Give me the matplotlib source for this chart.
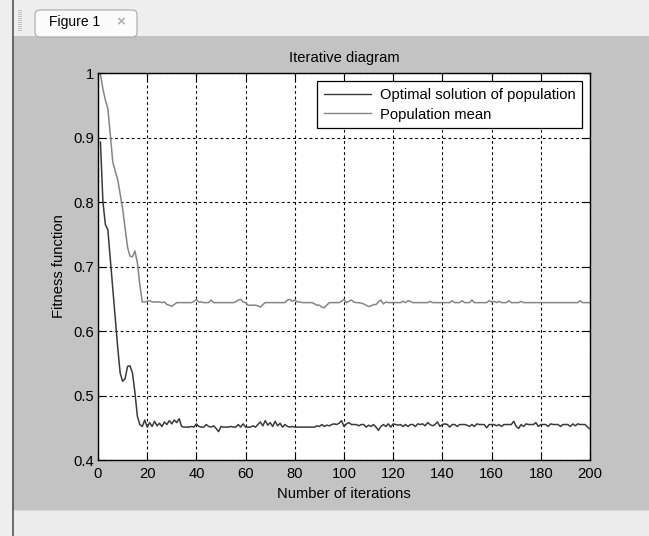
import matplotlib
matplotlib.use("Agg")
from matplotlib import pyplot as plt
from matplotlib.patches import Rectangle, FancyBboxPatch
from matplotlib.lines import Line2D
import numpy as np

plt.rcParams['font.family'] = ['Liberation Sans', 'DejaVu Sans']

# fitness of the best individual per iteration
best = [0.893, 0.800, 0.765, 0.757, 0.712, 0.668, 0.622, 0.575, 0.535, 0.522,
        0.526, 0.545, 0.546, 0.535, 0.505, 0.468, 0.455, 0.452, 0.462, 0.451,
        0.458, 0.452, 0.460, 0.453, 0.457, 0.452, 0.459, 0.455, 0.461, 0.456,
        0.462, 0.458, 0.464, 0.452, 0.451, 0.451, 0.451, 0.452, 0.451, 0.456,
        0.452, 0.451, 0.451, 0.455, 0.452, 0.451, 0.453, 0.449, 0.444, 0.452,
        0.451, 0.451, 0.451, 0.452, 0.451, 0.451, 0.455, 0.451, 0.456, 0.451,
        0.451, 0.451, 0.453, 0.451, 0.455, 0.459, 0.453, 0.461, 0.454, 0.458,
        0.452, 0.460, 0.453, 0.457, 0.451, 0.455, 0.452, 0.451, 0.452, 0.451,
        0.451, 0.451, 0.451, 0.451, 0.451, 0.451, 0.451, 0.451, 0.453, 0.452,
        0.455, 0.452, 0.454, 0.453, 0.455, 0.456, 0.455, 0.457, 0.461, 0.452,
        0.456, 0.458, 0.455, 0.455, 0.455, 0.453, 0.455, 0.455, 0.451, 0.454,
        0.452, 0.455, 0.451, 0.446, 0.452, 0.455, 0.452, 0.456, 0.451, 0.456,
        0.455, 0.454, 0.455, 0.452, 0.455, 0.452, 0.455, 0.455, 0.452, 0.456,
        0.455, 0.456, 0.453, 0.458, 0.455, 0.453, 0.455, 0.459, 0.452, 0.455,
        0.456, 0.455, 0.451, 0.455, 0.455, 0.452, 0.455, 0.455, 0.455, 0.454,
        0.452, 0.455, 0.452, 0.456, 0.455, 0.455, 0.455, 0.450, 0.455, 0.455,
        0.455, 0.453, 0.455, 0.452, 0.455, 0.455, 0.455, 0.455, 0.460, 0.452,
        0.449, 0.455, 0.452, 0.456, 0.455, 0.455, 0.455, 0.458, 0.452, 0.455,
        0.455, 0.455, 0.452, 0.456, 0.455, 0.455, 0.455, 0.452, 0.455, 0.455,
        0.455, 0.452, 0.456, 0.453, 0.456, 0.455, 0.455, 0.455, 0.451, 0.448]

# mean fitness of the population per iteration
mean = [0.998, 0.975, 0.958, 0.945, 0.905, 0.862, 0.848, 0.835, 0.812, 0.790,
        0.760, 0.730, 0.716, 0.715, 0.724, 0.706, 0.672, 0.645, 0.645, 0.646,
        0.647, 0.645, 0.645, 0.645, 0.645, 0.644, 0.645, 0.641, 0.640, 0.638,
        0.641, 0.644, 0.644, 0.644, 0.644, 0.644, 0.644, 0.644, 0.646, 0.649,
        0.645, 0.645, 0.644, 0.644, 0.644, 0.648, 0.644, 0.644, 0.644, 0.644,
        0.644, 0.644, 0.644, 0.644, 0.644, 0.645, 0.648, 0.649, 0.645, 0.644,
        0.640, 0.640, 0.640, 0.640, 0.639, 0.637, 0.641, 0.644, 0.644, 0.644,
        0.644, 0.644, 0.644, 0.644, 0.644, 0.644, 0.648, 0.649, 0.646, 0.648,
        0.645, 0.645, 0.644, 0.644, 0.644, 0.644, 0.644, 0.642, 0.640, 0.640,
        0.637, 0.636, 0.640, 0.644, 0.644, 0.644, 0.644, 0.644, 0.646, 0.649,
        0.644, 0.646, 0.648, 0.645, 0.644, 0.644, 0.643, 0.642, 0.640, 0.638,
        0.639, 0.641, 0.641, 0.645, 0.648, 0.642, 0.645, 0.644, 0.644, 0.644,
        0.644, 0.644, 0.644, 0.646, 0.644, 0.647, 0.646, 0.644, 0.644, 0.644,
        0.644, 0.644, 0.644, 0.644, 0.646, 0.644, 0.644, 0.644, 0.644, 0.644,
        0.644, 0.644, 0.644, 0.647, 0.644, 0.644, 0.644, 0.647, 0.644, 0.644,
        0.644, 0.648, 0.644, 0.644, 0.644, 0.644, 0.644, 0.644, 0.647, 0.645,
        0.646, 0.644, 0.646, 0.644, 0.644, 0.644, 0.647, 0.644, 0.644, 0.644,
        0.644, 0.646, 0.644, 0.644, 0.644, 0.644, 0.644, 0.644, 0.644, 0.644,
        0.644, 0.644, 0.644, 0.644, 0.644, 0.644, 0.644, 0.644, 0.644, 0.644,
        0.644, 0.644, 0.644, 0.644, 0.644, 0.647, 0.644, 0.644, 0.644, 0.644]

xticks = [0, 20, 40, 60, 80, 100, 120, 140, 160, 180, 200]
yticks = [0.4, 0.5, 0.6, 0.7, 0.8, 0.9, 1.0]
ytick_labels = ["0.4", "0.5", "0.6", "0.7", "0.8", "0.9", "1"]
legend_labels = ["Optimal solution of population", "Population mean"]

W, H = 649, 536
FS = 10.6


def fx(x):
    return x / W


def fy(y):
    return 1 - y / H


fig = plt.figure(figsize=(W / 100, H / 100), dpi=100, facecolor="#c3c3c3")

# window chrome: tab bar, status bar, left border
fig.add_artist(Rectangle((0, fy(36)), 1, 36 / H, transform=fig.transFigure,
                         facecolor="#eeeeee", edgecolor="none", zorder=0))
fig.add_artist(Rectangle((0, 0), 1, fy(510), transform=fig.transFigure,
                         facecolor="#ececec", edgecolor="none", zorder=0))
fig.add_artist(Rectangle((0, fy(511)), 1, 1 / H, transform=fig.transFigure,
                         facecolor="#d8d8d8", edgecolor="none", zorder=0))
fig.add_artist(Rectangle((0, 0), fx(12), 1, transform=fig.transFigure,
                         facecolor="#eeeeee", edgecolor="none", zorder=0))
fig.add_artist(Line2D([fx(12.5), fx(12.5)], [0, 1], transform=fig.transFigure,
                      color="#555555", lw=1.2))
tab = FancyBboxPatch((fx(35), fy(37)), (137 - 35) / W, 27 / H,
                     boxstyle="round,pad=0,rounding_size=0.008",
                     transform=fig.transFigure, facecolor="#fbfbfb",
                     edgecolor="#a8a8a8", lw=0.8)
fig.add_artist(tab)
fig.text(fx(49), fy(22), "Figure 1", fontsize=10, va="center", ha="left")
fig.text(fx(121), fy(22), "\u00d7", fontsize=11, va="center", ha="center",
         color="#b0b0b0", fontweight="bold")
for yy in range(10, 32, 2):
    fig.add_artist(Line2D([fx(18), fx(21)], [fy(yy), fy(yy)],
                          transform=fig.transFigure, color="#b8b8b8", lw=0.6))

ax = fig.add_axes([fx(98), fy(460), (590 - 98) / W, (460 - 73) / H])
x = np.arange(1, len(best) + 1)
ax.plot(x, best, color="#3a3a3a", lw=1.1, label=legend_labels[0])
ax.plot(x, mean, color="#858585", lw=1.1, label=legend_labels[1])

ax.set_xlim(0, 200)
ax.set_ylim(0.4, 1.0)
ax.set_xticks(xticks)
ax.set_yticks(yticks)
ax.set_yticklabels(ytick_labels)
ax.tick_params(direction="in", top=True, right=True, length=5, width=0.8,
               labelsize=FS, colors="black", pad=3)
ax.tick_params(axis="x", pad=5)
ax.grid(True, color="black", linestyle=(0, (2.5, 2.5)), lw=0.8)
for s in ax.spines.values():
    s.set_linewidth(1.0)
    s.set_color("black")

ax.set_title("Iterative diagram", fontsize=FS, pad=8)
ax.set_xlabel("Number of iterations", fontsize=FS, labelpad=4)
ax.set_ylabel("Fitness function", fontsize=FS, labelpad=5)

leg = ax.legend(loc="upper right", fontsize=FS, frameon=True, fancybox=False,
                edgecolor="black", framealpha=1, handlelength=3.2,
                borderaxespad=0.55, labelspacing=0.4, handletextpad=0.6,
                borderpad=0.45)
leg.get_frame().set_linewidth(0.9)
for ln in leg.get_lines():
    ln.set_linewidth(1.0)

fig.savefig("out.png", dpi=100, facecolor=fig.get_facecolor())
